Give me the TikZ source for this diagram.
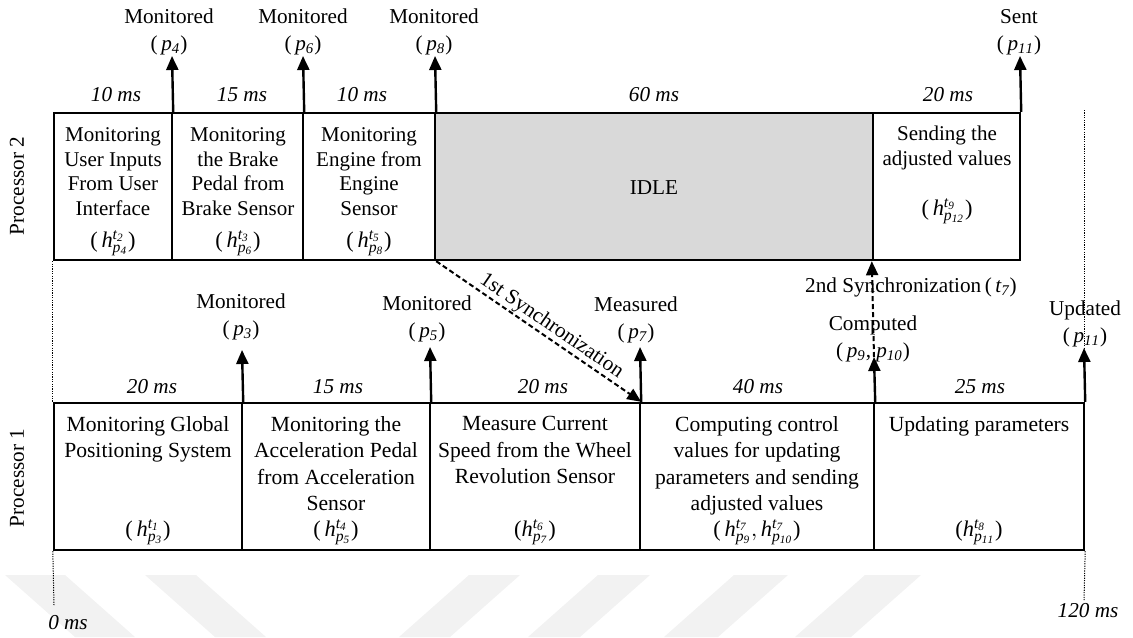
\documentclass[tikz,border=0pt]{standalone}
\usepackage{fontspec}
\setmainfont{Liberation Serif}
\usetikzlibrary{arrows.meta,fit}

\begin{document}
\begin{tikzpicture}[x=0.5pt,y=-0.5pt,
  wm/.style={fill=black!5},
  task/.style={draw, line width=1.2pt, inner sep=0pt},
  idlebox/.style={task, fill=black!15},
  arr/.style={line width=1.2pt, -{Triangle[length=7pt,width=6pt]}},
  dsh/.style={line width=1pt, dash pattern=on 2.5pt off 1.5pt, -{Triangle[length=7pt,width=6pt]}},
  dot/.style={line width=0.5pt, dash pattern=on 0.6pt off 0.6pt},
  lbl/.style={font=\fontsize{10.6}{13.5}\selectfont, align=center, inner sep=0pt},
  dur/.style={font=\fontsize{10.6}{12}\selectfont\itshape, inner sep=0pt},
  ptwo/.style={font=\fontsize{10.5}{12.35}\selectfont, align=center, inner sep=0pt, anchor=north},
  pone/.style={font=\fontsize{10.8}{13.2}\selectfont, align=center, inner sep=0pt, anchor=north},
  hf/.style={font=\fontsize{11.2}{12}\selectfont, inner sep=0pt},
  proc/.style={font=\fontsize{10.6}{12}\selectfont, rotate=90, inner sep=0pt}]
\useasboundingbox (0,0) rectangle (1133,637);

% faint background chevrons
\fill[wm] (5,575) -- (65,575) -- (135,637) -- (75,637) -- cycle;
\fill[wm] (145,575) -- (196,575) -- (266,637) -- (215,637) -- cycle;
\fill[wm] (469,575) -- (520,575) -- (450,637) -- (399,637) -- cycle;
\fill[wm] (598,575) -- (650,575) -- (580,637) -- (528,637) -- cycle;
\fill[wm] (734,575) -- (788,575) -- (718,637) -- (664,637) -- cycle;
\fill[wm] (865,575) -- (921,575) -- (851,637) -- (795,637) -- cycle;

% processor labels
\node[proc] (P2) at (17,186) {Processor 2};
\node[proc] (P1) at (17,478) {Processor 1};

% Processor 2 tasks
\node[task, fit={(54,113) (172,260)}] (b1) {};
\node[task, fit={(172,113) (303,260)}] (b2) {};
\node[task, fit={(303,113) (435,260)}] (b3) {};
\node[idlebox, fit={(435,113) (873,260)}] (b4) {};
\node[task, fit={(873,113) (1020,260)}] (b5) {};

\node[ptwo] (b1t) at (113,127) {Monitoring\\User Inputs\\From User\\Interface};
\node[ptwo] (b2t) at (238,127) {Monitoring\\the Brake\\Pedal from\\Brake Sensor};
\node[ptwo] (b3t) at (369,127) {Monitoring\\Engine from\\Engine\\Sensor};
\node[ptwo] (b5t) at (947,126) {Sending the\\adjusted values};
\node[font=\fontsize{10.6}{12}\selectfont, inner sep=0pt] (idle) at (654,188) {IDLE};

\node[hf] (b1h) at (113,243) {(\,$\mathit{h^{t_2}_{p_4}}$)};
\node[hf] (b2h) at (238,243) {(\,$\mathit{h^{t_3}_{p_6}}$)};
\node[hf] (b3h) at (369,243) {(\,$\mathit{h^{t_5}_{p_8}}$)};
\node[hf] (b5h) at (947,211) {(\,$\mathit{h^{t_9}_{p_{12}}}$)};

% Processor 2 durations
\node[dur] (d1) at (116,95) {10 ms};
\node[dur] (d2) at (242,95) {15 ms};
\node[dur] (d3) at (362,95) {10 ms};
\node[dur] (d4) at (654,95) {60 ms};
\node[dur] (d5) at (948,95) {20 ms};

% Processor 2 outputs
\coordinate (t4) at (172,56);
\coordinate (t6) at (303,56);
\coordinate (t8) at (435,56);
\coordinate (t11) at (1020,56);
\draw[arr] (b1.north east) -- (t4);
\draw[arr] (b2.north east) -- (t6);
\draw[arr] (b3.north east) -- (t8);
\draw[arr] (b5.north east) -- (t11);
\node[lbl, anchor=south] (l4) at (169,55) {Monitored\\(\,$\mathit{p_4}$)};
\node[lbl, anchor=south] (l6) at (303,55) {Monitored\\(\,$\mathit{p_6}$)};
\node[lbl, anchor=south] (l8) at (434,55) {Monitored\\(\,$\mathit{p_8}$)};
\node[lbl, anchor=south] (l11) at (1019,55) {Sent\\(\,$\mathit{p_{11}}$)};

% Processor 1 tasks
\node[task, fit={(54,403) (242,550)}] (a1) {};
\node[task, fit={(242,403) (430,550)}] (a2) {};
\node[task, fit={(430,403) (640,550)}] (a3) {};
\node[task, fit={(640,403) (874,550)}] (a4) {};
\node[task, fit={(874,403) (1084,550)}] (a5) {};

\node[pone] (a1t) at (148,416) {Monitoring Global\\Positioning System};
\node[pone] (a2t) at (336,416) {Monitoring the\\Acceleration Pedal\\from Acceleration\\Sensor};
\node[pone] (a3t) at (535,416) {Measure Current\\Speed from the Wheel\\Revolution Sensor};
\node[pone] (a4t) at (757,416) {Computing control\\values for updating\\parameters and sending\\adjusted values};
\node[pone] (a5t) at (979,416) {Updating parameters};

\node[hf] (a1h) at (148,532) {(\,$\mathit{h^{t_1}_{p_3}}$)};
\node[hf] (a2h) at (336,532) {(\,$\mathit{h^{t_4}_{p_5}}$)};
\node[hf] (a3h) at (535,532) {($\mathit{h^{t_6}_{p_7}}$)};
\node[hf] (a4h) at (757,532) {(\,$\mathit{h^{t_7}_{p_9}}, \mathit{h^{t_7}_{p_{10}}}$)};
\node[hf] (a5h) at (979,532) {($\mathit{h^{t_8}_{p_{11}}}$)};

% Processor 1 durations
\node[dur] (e1) at (152,387) {20 ms};
\node[dur] (e2) at (338,387) {15 ms};
\node[dur] (e3) at (543,387) {20 ms};
\node[dur] (e4) at (758,387) {40 ms};
\node[dur] (e5) at (980,387) {25 ms};

% Processor 1 outputs
\coordinate (u3) at (242,350);
\coordinate (u5) at (430,347);
\coordinate (u7) at (640,347);
\coordinate (u9) at (874,357);
\coordinate (u11) at (1084,348);
\draw[arr] (a1.north east) -- (u3);
\draw[arr] (a2.north east) -- (u5);
\draw[arr] (a3.north east) -- (u7);
\draw[arr] (a4.north east) -- (u9);
\draw[arr] (a5.north east) -- (u11);
\node[lbl, anchor=south] (k3) at (241,340) {Monitored\\(\,$\mathit{p_3}$)};
\node[lbl, anchor=south] (k5) at (427,342) {Monitored\\(\,$\mathit{p_5}$)};
\node[lbl, anchor=south] (k7) at (636,343) {Measured\\(\,$\mathit{p_7}$)};
\node[lbl, anchor=south] (k9) at (873,362) {Computed\\(\,$\mathit{p_9}$, $\mathit{p_{10}}$)};
\node[lbl, anchor=south] (k11) at (1085,347) {Updated\\(\,$\mathit{p_{11}}$)};

% synchronizations
\draw[dsh] (b3.south east) -- node[sloped, above, pos=0.53, inner sep=0.5pt, font=\fontsize{10.6}{12}\selectfont] (s1) {1st Synchronization} (a3.north east);
\draw[dsh] (u9) -- (b5.south west);
\node[font=\fontsize{10.6}{12}\selectfont, inner sep=0pt] (s2) at (911,287) {2nd Synchronization\,(\,$\mathit{t_7}$)};

% time axis
\coordinate (z0) at (54,605);
\coordinate (zt) at (1084,110);
\coordinate (z120) at (1084,600);
\draw[dot] (b1.south west) -- (a1.north west);
\draw[dot] (a1.south west) -- (z0);
\draw[dot] (zt) -- (u11);
\draw[dot] (a5.south east) -- (z120);
\node[dur] (m0) at (68,623) {0 ms};
\node[dur] (m120) at (1088,611) {120 ms};
\end{tikzpicture}
\end{document}
